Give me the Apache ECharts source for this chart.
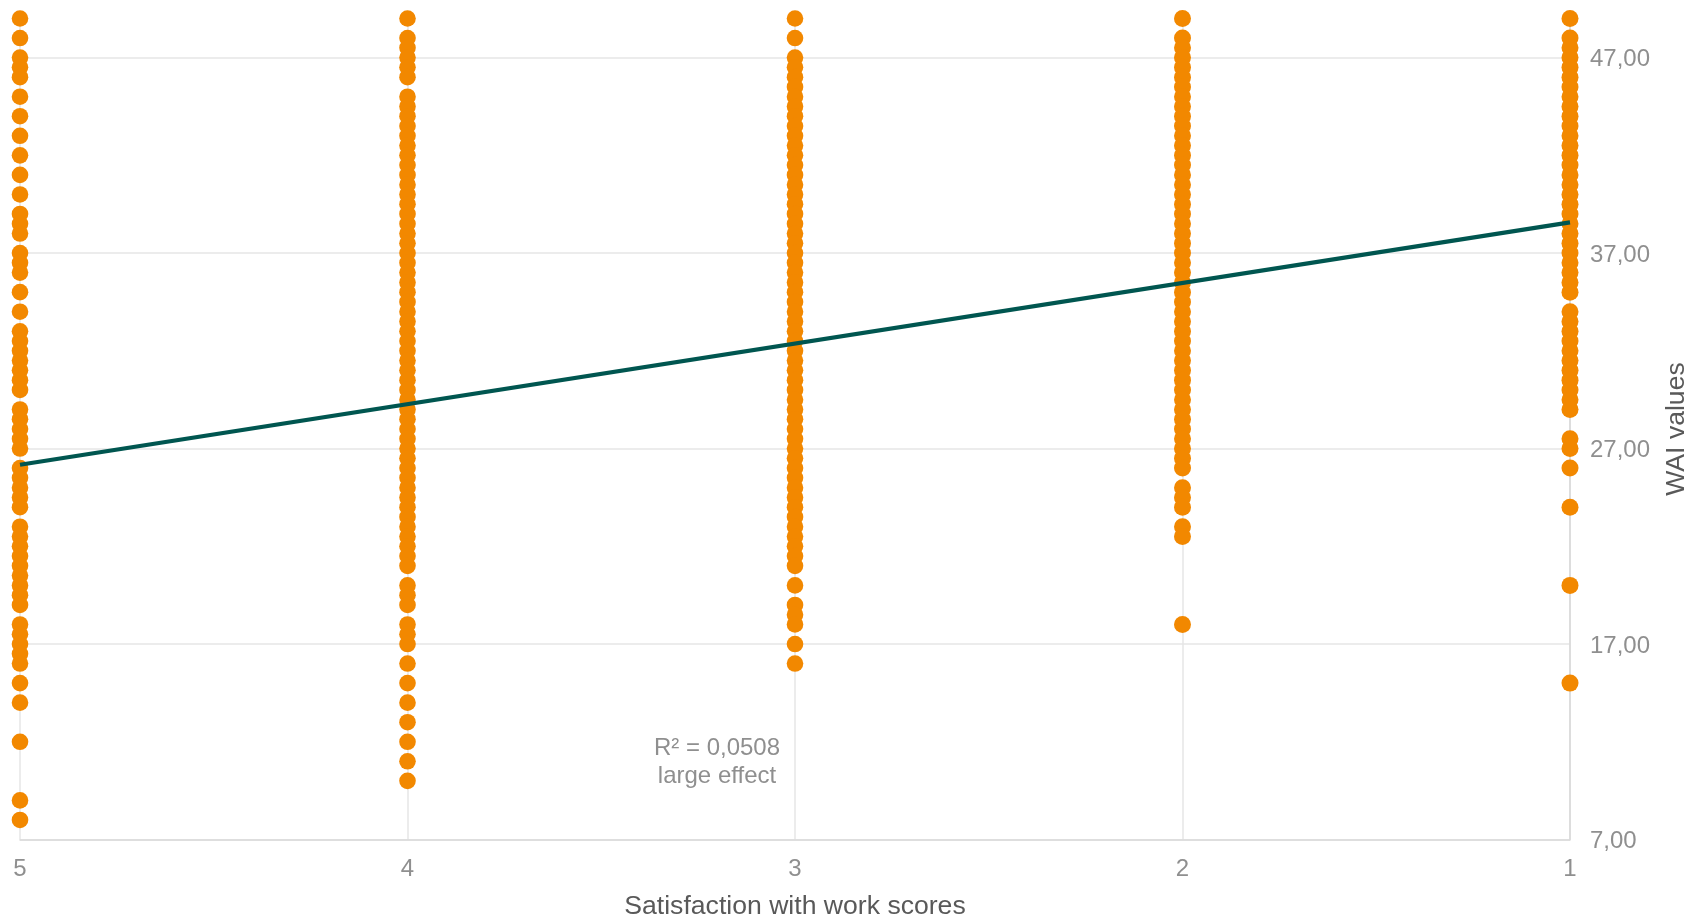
<!DOCTYPE html>
<html>
<head>
<meta charset="utf-8">
<style>html,body{margin:0;padding:0;background:#fff}#chart{width:1698px;height:919px}</style>
<script src="https://cdn.jsdelivr.net/npm/echarts@6/dist/echarts.min.js"></script>
</head>
<body>
<div id="chart"></div>
<script>
const xTicks = [5, 4, 3, 2, 1];
const yTicks = [7, 17, 27, 37, 47];
const xAxisTitle = 'Satisfaction with work scores';
const yAxisTitle = 'WAI values';
const annotationLines = ['R² = 0,0508', 'large effect'];

const score5Values = [49,48,47,46.5,46,45,44,43,42,41,40,39,38.5,38,37,36.5,36,35,34,33,32.5,32,31.5,31,30.5,30,29,28.5,28,27.5,27,26,25.5,25,24.5,24,23,22.5,22,21.5,21,20.5,20,19.5,19,18,17.5,17,16.5,16,15,14,12,9,8];
const score4Values = [49,48,47.5,47,46.5,46,45,44.5,44,43.5,43,42.5,42,41.5,41,40.5,40,39.5,39,38.5,38,37.5,37,36.5,36,35.5,35,34.5,34,33.5,33,32.5,32,31.5,31,30.5,30,29.5,29,28.5,28,27.5,27,26.5,26,25.5,25,24.5,24,23.5,23,22.5,22,21.5,21,20,19.5,19,18,17.5,17,16,15,14,13,12,11,10];
const score3Values = [49,48,47,46.5,46,45.5,45,44.5,44,43.5,43,42.5,42,41.5,41,40.5,40,39.5,39,38.5,38,37.5,37,36.5,36,35.5,35,34.5,34,33.5,33,32.5,32,31.5,31,30.5,30,29.5,29,28.5,28,27.5,27,26.5,26,25.5,25,24.5,24,23.5,23,22.5,22,21.5,21,20,19,18.5,18,17,16];
const score2Values = [49,48,47.5,47,46.5,46,45.5,45,44.5,44,43.5,43,42.5,42,41.5,41,40.5,40,39.5,39,38.5,38,37.5,37,36.5,36,35.5,35,34.5,34,33.5,33,32.5,32,31.5,31,30.5,30,29.5,29,28.5,28,27.5,27,26.5,26,25,24.5,24,23,22.5,18];
const score1Values = [49,48,47.5,47,46.5,46,45.5,45,44.5,44,43.5,43,42.5,42,41.5,41,40.5,40,39.5,39,38.5,38,37.5,37,36.5,36,35.5,35,34,33.5,33,32.5,32,31.5,31,30.5,30,29.5,29,27.5,27,26,24,20,15];
const trendScores = [5, 1];
const trendValues = [26.17, 38.57];

const seriesByScore = [[5, score5Values, 16.6], [4, score4Values, 16.6], [3, score3Values, 16.6], [2, score2Values, 17], [1, score1Values, 17]];
const FONT = '"Liberation Sans", Arial, sans-serif';

const chart = echarts.init(document.getElementById('chart'), null, {renderer: 'canvas'});
chart.setOption({
  animation: false,
  backgroundColor: '#ffffff',
  grid: {left: 20, right: 128, top: 18.5, bottom: 79.5, containLabel: false, outerBoundsMode: 'none'},
  xAxis: {
    type: 'value', inverse: true, min: 1, max: 5, interval: 1,
    name: xAxisTitle, nameLocation: 'middle', nameGap: 54,
    nameTextStyle: {fontFamily: FONT, fontSize: 26.6, color: '#595959'},
    axisLine: {show: true, onZero: false, lineStyle: {color: '#d9d9d9', width: 1.5}},
    axisTick: {show: false},
    axisLabel: {margin: 18, fontFamily: FONT, fontSize: 24, color: '#8f8f8f', hideOverlap: false, showMinLabel: true, showMaxLabel: true, formatter: v => xTicks.includes(v) ? String(v) : ''},
    splitLine: {show: true, lineStyle: {color: '#e6e6e6', width: 1.5}}
  },
  yAxis: {
    type: 'value', position: 'right', min: 7, max: 49,
    name: yAxisTitle, nameLocation: 'middle', nameGap: 93, nameRotate: 90,
    nameTextStyle: {fontFamily: FONT, fontSize: 26.6, color: '#595959'},
    axisLine: {show: true, onZero: false, lineStyle: {color: '#d9d9d9', width: 1.5}},
    axisTick: {show: false, customValues: yTicks},
    axisLabel: {
      margin: 20, fontFamily: FONT, fontSize: 24, color: '#8f8f8f', customValues: yTicks,
      formatter: v => '{t|' + v.toFixed(2).replace('.', ',') + '}',
      rich: {t: {fontFamily: FONT, fontSize: 24, color: '#8f8f8f', padding: [4, 0, 0, 0]}}
    },
    splitLine: {show: true, lineStyle: {color: '#e6e6e6', width: 1.5}}
  },
  series: seriesByScore.map(([score, values, size]) => ({
    type: 'scatter', clip: false, symbol: 'circle', symbolSize: size, z: 3,
    itemStyle: {color: '#f28800', opacity: 1},
    data: values.map(v => [score, v])
  })).concat([{
    type: 'line', clip: false, z: 5, showSymbol: false, symbol: 'none',
    lineStyle: {color: '#005650', width: 4.2},
    data: trendScores.map((s, i) => [s, trendValues[i]])
  }]),
  graphic: [{
    type: 'text', x: 717, y: 734, silent: true, z: 10,
    style: {text: annotationLines.join('\n'), fontFamily: FONT, fontSize: 24, lineHeight: 28, fill: '#8f8f8f', align: 'center'}
  }]
});
</script>
</body>
</html>
